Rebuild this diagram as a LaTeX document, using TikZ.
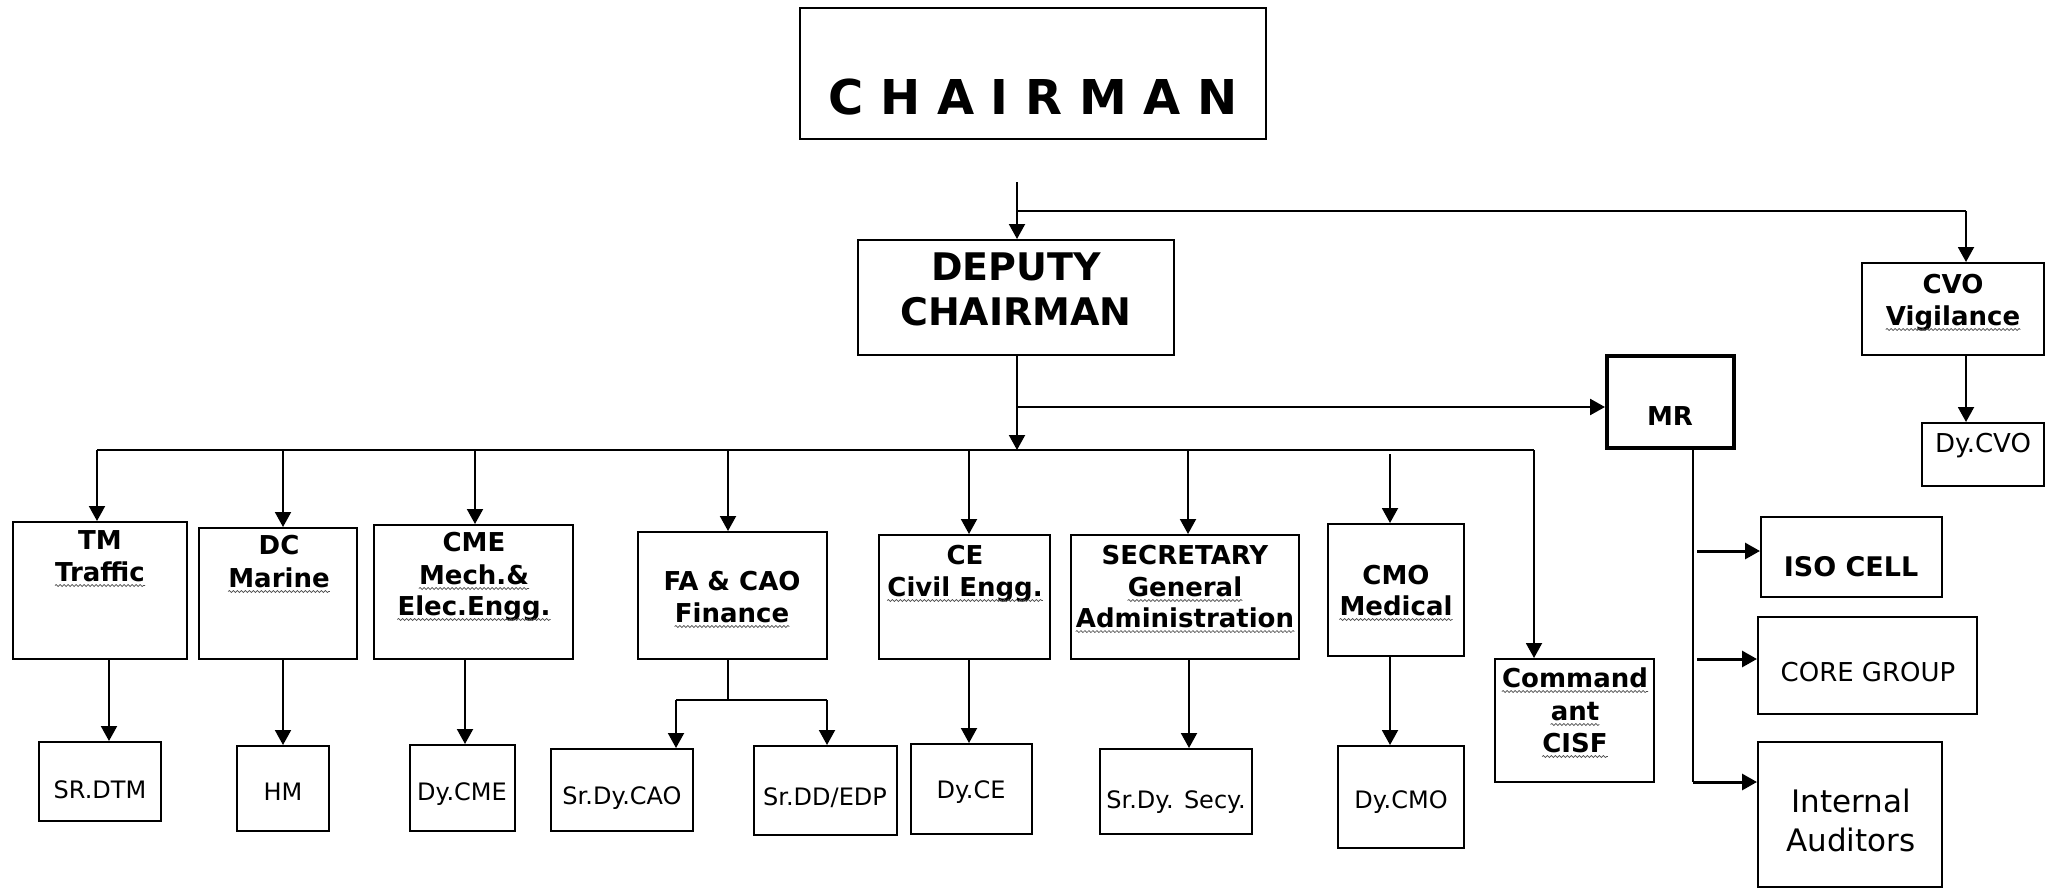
\documentclass[tikz,border=0pt]{standalone}
\usepackage{fontspec}
\setmainfont{DejaVu Sans}
\usetikzlibrary{arrows.meta,decorations.pathmorphing}
\newcommand\dept{\fontsize{26}{31}\selectfont\bfseries}
\newcommand\subf{\fontsize{24}{29}\selectfont}
\newcommand\bx[6][]{\node[box,#1,minimum width={#5-#3},minimum height={#6-#4}] (#2) at ({(#3+#5)/2},{(#4+#6)/2}) {};}
\newcommand\tx[4]{\node[txt] (#1) at (#2,#3) {#4};}
\newcommand\wtx[4]{\node[txt] (#1) at (#2,#3) {#4};
  \draw[wave] ([yshift=-4.5pt]#1.base west) -- ([yshift=-4.5pt]#1.base east);}
\begin{document}
\begin{tikzpicture}[x=1pt,y=-1pt,
  box/.style={draw, rectangle, line width=2pt, inner sep=0pt},
  txt/.style={anchor=base, inner sep=0pt},
  wave/.style={black!70, line width=0.7pt, decorate, decoration={snake, amplitude=1pt, segment length=4pt}},
  ln/.style={line width=2pt},
  arr/.style={line width=2pt, -{Triangle[length=15pt,width=16pt]}}]
\fill[white] (0,0) rectangle (2053,888);
\useasboundingbox (0,0) rectangle (2053,888);

% top level
\bx{ch}{800}{8}{1266}{139}
\tx{chT}{1033}{115}{\fontsize{48}{58}\selectfont\bfseries C H A I R M A N}
\bx{dc}{858}{240}{1174}{355}
\tx{dcT1}{1016}{280}{\fontsize{38}{45}\selectfont\bfseries DEPUTY}
\tx{dcT2}{1016}{325}{\fontsize{38}{45}\selectfont\bfseries CHAIRMAN}
\bx{cvo}{1862}{263}{2044}{355}
\tx{cvoT1}{1953}{293}{\dept CVO}
\wtx{cvoT2}{1953}{325}{\dept Vigilance}
\bx{dcvo}{1922}{423}{2044}{486}
\tx{dcvoT}{1983}{452}{\fontsize{26}{31}\selectfont Dy.CVO}
\bx[line width=4pt]{mr}{1607}{356}{1734}{448}
\tx{mrT}{1670}{425}{\dept MR}

% departments
\bx{tm}{13}{522}{187}{659}
\tx{tmT1}{100}{549}{\dept TM}
\wtx{tmT2}{100}{581}{\dept Traffic}
\bx{dcm}{199}{528}{357}{659}
\tx{dcmT1}{279}{554}{\dept DC}
\wtx{dcmT2}{279}{587}{\dept Marine}
\bx{cme}{374}{525}{573}{659}
\tx{cmeT1}{474}{551}{\dept CME}
\wtx{cmeT2}{474}{584}{\dept Mech.\&}
\wtx{cmeT3}{474}{615}{\dept Elec.Engg.}
\bx{fa}{638}{532}{827}{659}
\tx{faT1}{732}{590}{\dept FA \& CAO}
\wtx{faT2}{732}{622}{\dept Finance}
\bx{ce}{879}{535}{1050}{659}
\tx{ceT1}{965}{564}{\dept CE}
\wtx{ceT2}{965}{596}{\dept Civil Engg.}
\bx{sec}{1071}{535}{1299}{659}
\tx{secT1}{1185}{564}{\dept SECRETARY}
\wtx{secT2}{1185}{596}{\dept General}
\wtx{secT3}{1185}{627}{\dept Administration}
\bx{cmo}{1328}{524}{1464}{656}
\tx{cmoT1}{1396}{584}{\dept CMO}
\wtx{cmoT2}{1396}{615}{\dept Medical}
\bx{cisf}{1495}{659}{1654}{782}
\wtx{cisfT1}{1575}{687}{\dept Command}
\wtx{cisfT2}{1575}{720}{\dept ant}
\wtx{cisfT3}{1575}{752}{\dept CISF}
\bx{iso}{1761}{517}{1942}{597}
\tx{isoT}{1851}{576}{\fontsize{27}{32}\selectfont\bfseries ISO CELL}
\bx{core}{1758}{617}{1977}{714}
\tx{coreT}{1868}{681}{\fontsize{26}{31}\selectfont CORE GROUP}
\bx{ia}{1758}{742}{1942}{887}
\tx{iaT1}{1851}{812}{\fontsize{31}{39}\selectfont Internal}
\tx{iaT2}{1851}{851}{\fontsize{31}{39}\selectfont Auditors}

% bottom row
\bx{srdtm}{39}{742}{161}{821}
\tx{srdtmT}{100}{798}{\subf SR.DTM}
\bx{hm}{237}{746}{329}{831}
\tx{hmT}{283}{800}{\subf HM}
\bx{dcme}{410}{745}{515}{831}
\tx{dcmeT}{462}{800}{\subf Dy.CME}
\bx{sdcao}{551}{749}{693}{831}
\tx{sdcaoT}{622}{804}{\subf Sr.Dy.CAO}
\bx{sdd}{754}{746}{897}{835}
\tx{sddT}{825}{805}{\subf Sr.DD/EDP}
\bx{dce}{911}{744}{1032}{834}
\tx{dceT}{971}{798}{\subf Dy.CE}
\bx{sdsec}{1100}{749}{1252}{834}
\tx{sdsecT}{1176}{808}{\subf Sr.Dy. Secy.}
\bx{dcmo}{1338}{746}{1464}{848}
\tx{dcmoT}{1401}{808}{\subf Dy.CMO}

% connectors top
\coordinate (c0) at (1017,182);
\draw[arr] (c0) -- (c0 |- dc.north);
\coordinate (j1) at (1017,211);
\coordinate (j2) at (1966,211);
\draw[ln] (j1) -- (j2);
\draw[arr] (j2) -- (j2 |- cvo.north);
\draw[arr] (j2 |- cvo.south) -- (j2 |- dcvo.north);
\coordinate (j3) at (1017,407);
\draw[arr, line width=2.5pt] (j3) -- (j3 -| mr.west);
\coordinate (bus) at (1017,450);
\draw[arr] (bus |- dc.south) -- (bus);
\coordinate (bl) at (97,450);
\coordinate (br) at (1534,450);
\draw[ln] (bl) -- (br);
\foreach \x/\n in {97/tm,283/dcm,475/cme,728/fa,969/ce,1188/sec,1534/cisf}
  {\coordinate (d) at (\x,450); \draw[arr] (d) -- (d |- \n.north);}
\coordinate (d8) at (1390,454);
\draw[arr] (d8) -- (d8 |- cmo.north);

% connectors bottom
\foreach \x/\a/\b in {109/tm/srdtm,283/dcm/hm,465/cme/dcme,969/ce/dce,1189/sec/sdsec,1390/cmo/dcmo}
  {\coordinate (v) at (\x,0); \draw[arr] (v |- \a.south) -- (v |- \b.north);}
\coordinate (f0) at (728,700);
\draw[ln] (f0 |- fa.south) -- (f0);
\coordinate (f1) at (676,700);
\coordinate (f2) at (827,700);
\draw[ln] (f1) -- (f2);
\draw[arr] (f1) -- (f1 |- sdcao.north);
\draw[arr] (f2) -- (f2 |- sdd.north);

% MR branches
\coordinate (m0) at (1693,0);
\coordinate (m1) at (1693,782);
\draw[ln] (m0 |- mr.south) -- (m1);
\draw[arr, line width=3pt] (m1) -- (m1 -| ia.west);
\coordinate (m2) at (1697,551);
\draw[arr, line width=3pt] (m2) -- (m2 -| iso.west);
\coordinate (m3) at (1697,659);
\draw[arr, line width=3pt] (m3) -- (m3 -| core.west);
\end{tikzpicture}
\end{document}
